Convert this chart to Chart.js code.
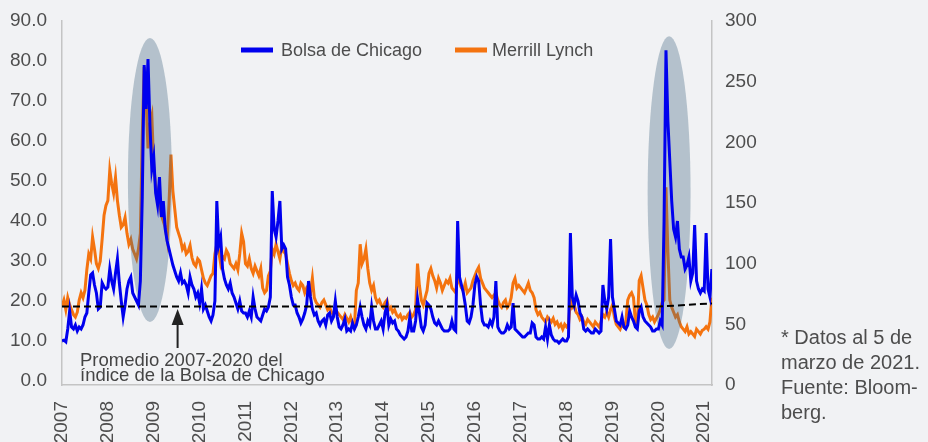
<!DOCTYPE html>
<html lang="es">
<head>
<meta charset="utf-8">
<title>Bolsa de Chicago y Merrill Lynch</title>
<script src="https://cdn.jsdelivr.net/npm/chart.js@4.4.1/dist/chart.umd.min.js"></script>
<style>
  html, body { margin: 0; padding: 0; background: #f1f2f4; }
  #marco { position: relative; width: 928px; height: 442px; }
</style>
</head>
<body>
<div id="marco"><canvas id="grafico" width="928" height="442"></canvas></div>
<script>
// Datos quincenales desde enero 2007 (24 por año) hasta el 5 de marzo de 2021
const anioInicio = 2007;
const porAnio = 24;
const anios = [2007, 2008, 2009, 2010, 2011, 2012, 2013, 2014, 2015, 2016, 2017, 2018, 2019, 2020, 2021];
const nombres = ["Bolsa de Chicago", "Merrill Lynch"];

// Índice de la Bolsa de Chicago (eje izquierdo)
const chicago = [
  10, 10.2, 9.8, 13, 17.5, 13.5, 13, 14, 12.5, 13.5, 13, 14, 16, 17, 22, 26.5, 27, 24, 22, 18, 18.5, 24.5, 23.5, 23,       // 2007
  23.5, 28, 25, 23, 27, 30.5, 24.5, 20, 16, 19, 23, 25, 26, 22, 21, 20, 19, 25, 46, 79, 68, 80.5, 64, 53,                  // 2008
  56, 47, 44, 51, 41, 45, 38, 35, 33, 31, 29, 27.5, 26, 25, 27, 24.5, 25, 24, 22, 26, 24, 23, 21, 22,                      // 2009
  19.5, 23, 18, 19, 17.5, 16, 15, 16.5, 20, 45, 34, 36, 28, 25.5, 24, 23, 24.5, 22, 21, 19.5, 18, 20, 17.5, 17,            // 2010
  17, 16, 17.5, 16, 21, 18, 16, 15.5, 15, 16.5, 18, 17.5, 18.5, 21, 47.5, 38, 36, 40, 45, 33, 34, 33, 26, 24,              // 2011
  21, 19, 19, 17, 16, 14.5, 15.5, 17, 19, 25, 21, 18, 16.5, 17, 15, 14, 15, 15.5, 14, 16.5, 17, 15, 16, 20,                // 2012
  16, 13.5, 13, 14, 15.5, 12.5, 13, 12.5, 14.5, 13, 14, 16, 18.5, 16, 14, 13, 15, 14, 18.5, 15, 13, 13, 14, 15,            // 2013
  13, 17, 19, 14, 15.5, 14.5, 15, 13, 12.5, 11.5, 11, 10.5, 11, 12.5, 16, 12.5, 12.5, 15, 20.5, 17, 13.5, 12.5, 14, 19.5,  // 2014
  19, 18, 16, 14.5, 14, 15, 14, 13, 12.5, 12.5, 12.5, 13, 15, 13, 12.5, 40, 26, 24, 22, 19, 15, 14.5, 16, 19,              // 2015
  24, 26, 25, 19, 15, 14, 14, 13.5, 15, 14, 16, 25, 13.5, 12.5, 12, 12, 12.5, 14, 13, 13.5, 19.5, 13, 12.5, 12,            // 2016
  11.5, 11, 11, 11.5, 12, 12, 14.5, 14, 11, 10.5, 10.5, 11, 10.5, 13.5, 10.5, 14, 11.5, 10.5, 10, 10, 9.5, 10, 10.5, 10,   // 2017
  10, 11, 37, 21, 19, 21.5, 20, 17, 16, 13, 12.5, 13, 12.5, 12, 12, 13, 12.5, 12, 12.5, 24, 20, 18, 21, 35.5,              // 2018
  21, 18, 15, 14.5, 14, 16, 13.5, 13, 14, 17.5, 16, 15, 13.5, 13, 17.5, 18.5, 16, 15, 14.5, 14, 13.5, 12.5, 12.5, 13,      // 2019
  13, 15, 14, 40, 82.7, 65, 55, 45, 38, 36, 40, 33, 31, 31, 28, 29, 31, 25, 27, 39, 25, 23, 22, 23,                        // 2020
  22.5, 37, 23, 21, 28                                                                                                     // 2021
];

// Índice Merrill Lynch (eje derecho)
const merrill = [
  65, 70, 62, 72, 66, 62, 58, 56, 60, 70, 76, 72, 78, 95, 108, 104, 122, 112, 100, 96, 102, 120, 140, 148,             // 2007
  152, 177, 166, 158, 171, 152, 140, 130, 132, 138, 125, 116, 120, 112, 108, 104, 112, 125, 205, 262, 235, 195, 215, 222, // 2008
  180, 165, 158, 150, 140, 135, 130, 120, 150, 190, 160, 145, 130, 125, 120, 112, 115, 108, 110, 115, 105, 100, 98, 104,  // 2009
  102, 95, 88, 84, 82, 86, 90, 92, 108, 116, 110, 100, 106, 104, 111, 108, 100, 98, 96, 100, 95, 108, 125, 118,           // 2010
  100, 98, 104, 96, 92, 98, 94, 90, 96, 80, 76, 78, 90, 94, 112, 108, 116, 110, 104, 114, 110, 108, 100, 92,              // 2011
  86, 82, 84, 80, 78, 84, 82, 76, 80, 78, 76, 88, 72, 68, 66, 64, 68, 70, 66, 62, 64, 60, 58, 62,                         // 2012
  60, 58, 56, 54, 58, 55, 52, 56, 50, 48, 78, 84, 116, 100, 104, 112, 96, 84, 78, 82, 72, 68, 70, 66,                     // 2013
  64, 68, 70, 62, 64, 60, 62, 58, 56, 58, 54, 56, 55, 58, 60, 56, 58, 62, 100, 82, 70, 66, 72, 78,                        // 2014
  92, 96, 90, 86, 80, 88, 84, 78, 82, 86, 84, 88, 80, 78, 76, 95, 84, 80, 78, 84, 76, 78, 80, 86,                         // 2015
  90, 94, 97, 88, 84, 80, 78, 76, 74, 72, 74, 76, 70, 66, 64, 68, 70, 64, 66, 72, 84, 88, 80, 82,                         // 2016
  80, 78, 76, 80, 84, 78, 76, 72, 62, 58, 60, 56, 54, 52, 56, 54, 52, 55, 50, 52, 48, 50, 46, 50,                         // 2017
  48, 50, 70, 64, 66, 60, 58, 54, 56, 52, 50, 54, 52, 50, 48, 52, 50, 48, 52, 58, 56, 60, 56, 62,                         // 2018
  66, 56, 50, 48, 46, 50, 48, 52, 70, 74, 76, 72, 52, 50, 86, 90, 80, 70, 66, 58, 54, 56, 52, 55,                         // 2019
  58, 62, 68, 70, 163, 110, 70, 64, 60, 56, 58, 52, 48, 46, 44, 48, 42, 44, 42, 40, 46, 44, 42, 45,                       // 2020
  46, 48, 46, 52, 72                                                                                                      // 2021
];

// Promedio 2007-2020 del índice de la Bolsa de Chicago
const promedioX = [2007, 2020, 2021.17];
const promedioY = [18.6, 18.6, 19.4];

const ticksIzq = [0, 10, 20, 30, 40, 50, 60, 70, 80, 90];
const ticksDer = [0, 50, 100, 150, 200, 250, 300];

const azul = "#0000ee";
const naranja = "#f4730f";
const gris = "#4d4d4d";
const fuente = "'Liberation Sans', Arial, sans-serif";

const aPuntos = serie => serie.map((v, i) => ({ x: anioInicio + i / porAnio, y: v }));

// Óvalos que resaltan las crisis (en unidades de los ejes)
const zonas = [
  { x: 2008.917, y: 50.25, rx: 0.48, ry: 35.5 },
  { x: 2020.235, y: 47.1, rx: 0.468, ry: 39.1 }
];

Chart.defaults.font.family = fuente;
Chart.defaults.color = gris;

// Los ejes verticales no deben empujar el área del gráfico hacia abajo
const sinRelleno = s => { s.paddingTop = 0; s.paddingBottom = 0; };

const decoracion = {
  id: "decoracion",
  afterDatasetDraw(chart, args) {
    if (args.index !== 2) return; // justo después de la serie naranja
    const { ctx } = chart;
    const sx = chart.scales.x, sy = chart.scales.y;
    ctx.save();
    ctx.fillStyle = "rgba(67,102,130,0.35)";
    zonas.forEach(z => {
      const cx = sx.getPixelForValue(z.x), cy = sy.getPixelForValue(z.y);
      const rx = Math.abs(sx.getPixelForValue(z.x + z.rx) - cx);
      const ry = Math.abs(sy.getPixelForValue(z.y + z.ry) - cy);
      ctx.beginPath();
      ctx.ellipse(cx, cy, rx, ry, 0, 0, Math.PI * 2);
      ctx.fill();
    });
    ctx.restore();
  },
  afterDraw(chart) {
    const { ctx } = chart;
    const sx = chart.scales.x, sy = chart.scales.y;
    ctx.save();

    // Leyenda
    ctx.font = "18px " + fuente;
    ctx.textBaseline = "middle";
    ctx.fillStyle = gris;
    ctx.lineWidth = 5;
    ctx.strokeStyle = azul;
    ctx.beginPath(); ctx.moveTo(241, 50); ctx.lineTo(273, 50); ctx.stroke();
    ctx.fillText(nombres[0], 281, 51);
    ctx.strokeStyle = naranja;
    ctx.beginPath(); ctx.moveTo(455, 50); ctx.lineTo(487, 50); ctx.stroke();
    ctx.fillText(nombres[1], 492, 51);

    // Flecha hacia la línea de promedio
    const ax = sx.getPixelForValue(2009.52);
    ctx.strokeStyle = "#222";
    ctx.fillStyle = "#222";
    ctx.lineWidth = 2;
    ctx.beginPath(); ctx.moveTo(ax, sy.getPixelForValue(8.25)); ctx.lineTo(ax, sy.getPixelForValue(14.5)); ctx.stroke();
    ctx.beginPath();
    ctx.moveTo(ax, sy.getPixelForValue(18));
    ctx.lineTo(ax - 6, sy.getPixelForValue(14));
    ctx.lineTo(ax + 6, sy.getPixelForValue(14));
    ctx.closePath(); ctx.fill();

    // Texto de la anotación
    ctx.fillStyle = "#444";
    ctx.textBaseline = "alphabetic";
    ctx.font = "18.5px " + fuente;
    ctx.fillText("Promedio 2007-2020 del", 80, 366);
    ctx.fillText("índice de la Bolsa de Chicago", 80, 381);

    // Nota al margen
    ctx.fillStyle = gris;
    ctx.font = "20px " + fuente;
    ["* Datos al 5 de", "marzo de 2021.", "Fuente: Bloom-", "berg."].forEach((t, i) => {
      ctx.fillText(t, 781, 344 + i * 25);
    });
    ctx.restore();
  }
};

const ctx = document.getElementById("grafico").getContext("2d");
new Chart(ctx, {
  type: "line",
  data: {
    datasets: [
      {
        label: "Promedio",
        data: promedioX.map((x, i) => ({ x: x, y: promedioY[i] })),
        yAxisID: "y",
        borderColor: "#000",
        borderDash: [7, 4],
        borderWidth: 2,
        pointRadius: 0,
        order: 0
      },
      {
        label: nombres[0],
        data: aPuntos(chicago),
        yAxisID: "y",
        borderColor: azul,
        borderWidth: 3,
        pointRadius: 0,
        tension: 0,
        order: 1
      },
      {
        label: nombres[1],
        data: aPuntos(merrill),
        yAxisID: "y1",
        borderColor: naranja,
        borderWidth: 3,
        pointRadius: 0,
        tension: 0,
        order: 2
      }
    ]
  },
  options: {
    responsive: false,
    animation: false,
    layout: { padding: { top: 21, left: 0, right: 0, bottom: 0 } },
    plugins: { legend: { display: false }, tooltip: { enabled: false } },
    scales: {
      x: {
        type: "linear",
        min: 2007,
        max: 2021.17,
        grid: { display: false, drawTicks: false },
        border: { display: true, color: "#c4c4c4", width: 1.5 },
        afterBuildTicks: s => { s.ticks = anios.map(v => ({ value: v })); },
        afterFit: s => { s.height = 57; },
        ticks: {
          autoSkip: false,
          minRotation: 90,
          maxRotation: 90,
          padding: 16,
          font: { size: 19 },
          color: gris,
          callback: v => String(v)
        }
      },
      y: {
        position: "left",
        min: -1,
        max: 90,
        grid: { display: false, drawTicks: false },
        border: { display: true, color: "#c4c4c4", width: 1.5 },
        afterBuildTicks: s => { s.ticks = ticksIzq.map(v => ({ value: v })); },
        afterFit: s => { s.width = 62; sinRelleno(s); },
        ticks: { padding: 15, font: { size: 19 }, color: gris, callback: v => v.toFixed(1) }
      },
      y1: {
        position: "right",
        min: 0,
        max: 300,
        grid: { display: false, drawTicks: false },
        border: { display: true, color: "#c4c4c4", width: 1.5 },
        afterBuildTicks: s => { s.ticks = ticksDer.map(v => ({ value: v })); },
        afterFit: s => { s.width = 216; sinRelleno(s); },
        ticks: { padding: 13, font: { size: 19 }, color: gris }
      }
    }
  },
  plugins: [decoracion]
});
</script>
</body>
</html>
